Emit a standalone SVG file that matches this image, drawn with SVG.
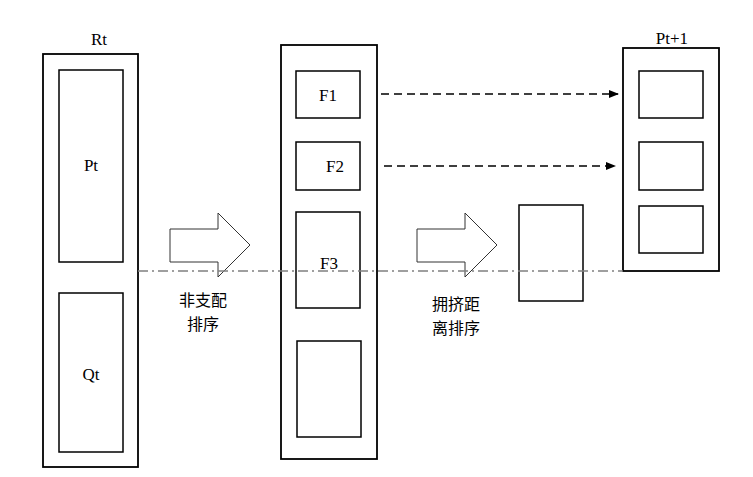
<svg xmlns="http://www.w3.org/2000/svg" width="753" height="477" viewBox="0 0 753 477">
<style>
.box{fill:#fff;stroke:#000;stroke-width:1.8}
.in{fill:#fff;stroke:#000;stroke-width:1.5}
.lbl{font-family:"Liberation Serif","Times New Roman",serif;font-size:17px;fill:#000;text-anchor:middle}
.cn{font-family:"Noto Sans CJK SC",sans-serif;font-size:16px;fill:#000;text-anchor:middle}
.dash{stroke:#000;stroke-width:1.3;stroke-dasharray:8,5;fill:none}
.blk{fill:#fff;stroke:#333;stroke-width:1}
</style>
<defs>
<marker id="ah" markerWidth="10" markerHeight="8" refX="9" refY="4" orient="auto" markerUnits="userSpaceOnUse">
<path d="M0,0 L10,4 L0,8 Z" fill="#000"/>
</marker>
</defs>
<g id="Rt">
<rect class="box" x="43" y="54" width="95" height="413"/>
<text class="lbl" x="99" y="45">Rt</text>
</g>
<g id="Pt">
<rect class="in" x="59" y="70" width="64" height="192"/>
<text class="lbl" x="91" y="171">Pt</text>
</g>
<g id="Qt">
<rect class="in" x="59" y="293" width="64" height="159"/>
<text class="lbl" x="91" y="380">Qt</text>
</g>
<g id="Fronts">
<rect class="box" x="281" y="45" width="96" height="414"/>
</g>
<g id="F1">
<rect class="in" x="296" y="71" width="64" height="47"/>
<text class="lbl" x="328" y="101">F1</text>
</g>
<g id="F2">
<rect class="in" x="296" y="142" width="64" height="48"/>
<text class="lbl" x="335" y="172">F2</text>
</g>
<g id="F3">
<rect class="in" x="296" y="212" width="64" height="96"/>
<text class="lbl" x="329" y="269">F3</text>
</g>
<g id="F4">
<rect class="in" x="297" y="341" width="64" height="96"/>
</g>
<g id="F3sel">
<rect class="in" x="519" y="205" width="64" height="96"/>
</g>
<g id="Pt1">
<rect class="box" x="623" y="48" width="96" height="223"/>
<text class="lbl" x="672" y="44">Pt+1</text>
</g>
<g id="Pt1a"><rect class="in" x="639" y="71" width="64" height="47"/></g>
<g id="Pt1b"><rect class="in" x="639" y="142" width="64" height="48"/></g>
<g id="Pt1c"><rect class="in" x="639" y="206" width="64" height="47"/></g>
<g id="sort1">
<path class="blk" d="M170,229 H218 V213 L250,245 L218,277 V262 H170 Z"/>
<text class="cn" x="203" y="306">非支配</text>
<text class="cn" x="203" y="330">排序</text>
</g>
<g id="sort2">
<path class="blk" d="M417,229 H465 V213 L497,245 L465,277 V262 H417 Z"/>
<text class="cn" x="456" y="310">拥挤距</text>
<text class="cn" x="456" y="334">离排序</text>
</g>
<g id="connectors">
<line class="dash" x1="381" y1="94" x2="618" y2="94" marker-end="url(#ah)"/>
<line class="dash" x1="384" y1="166" x2="615" y2="166" marker-end="url(#ah)"/>
<line x1="138" y1="271" x2="623" y2="271" stroke="#808080" stroke-width="1.5" stroke-dasharray="10,4,2,4" fill="none"/>
</g>
</svg>
